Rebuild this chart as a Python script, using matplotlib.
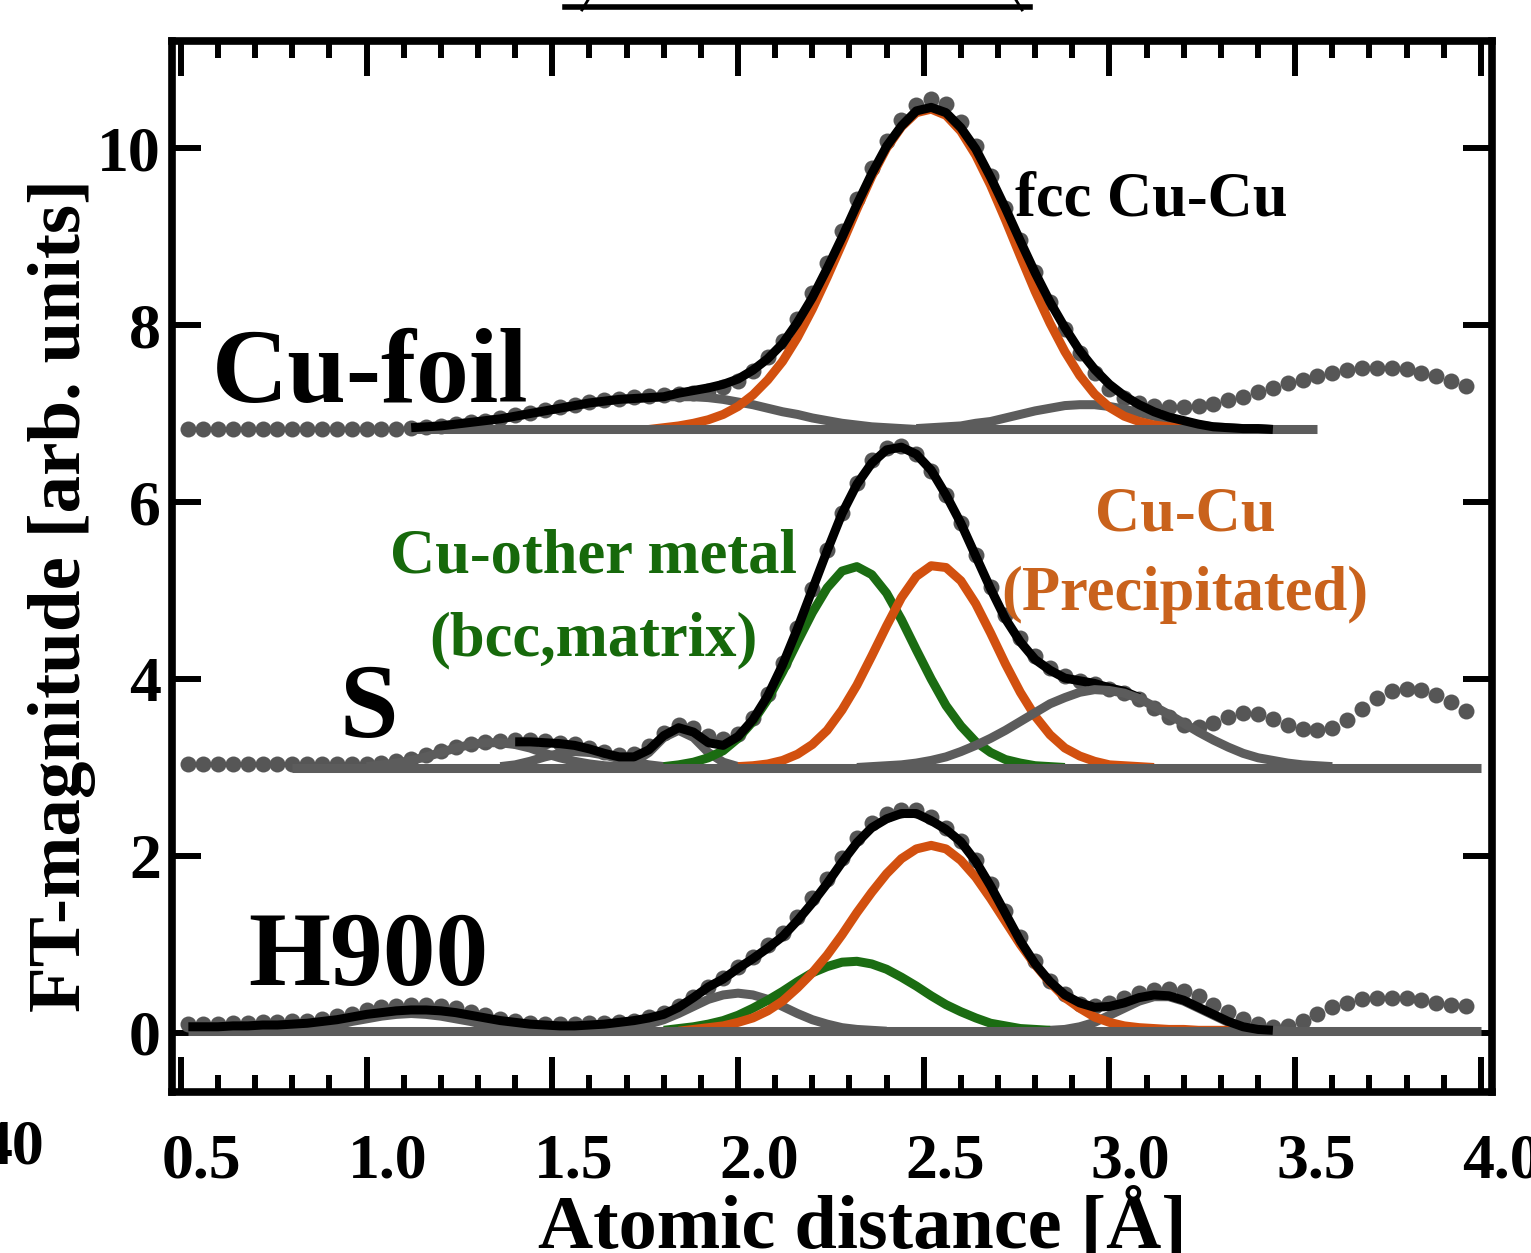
import numpy as np
import matplotlib.pyplot as plt
import matplotlib.transforms as mtransforms
from matplotlib.lines import Line2D
from matplotlib.ticker import MultipleLocator, NullLocator

plt.rcParams['font.family'] = ['Liberation Serif', 'DejaVu Serif']
plt.rcParams['font.weight'] = 'bold'

# measured FT points, R grid in Angstrom (step 0.04)
r = np.round(np.arange(0.52, 3.97, 0.04), 2)

samples = ['Cu-foil', 'S', 'H900']
offsets = [6.82, 3.00, 0.02]          # vertical shift of each sample
base_start = [1.12, 0.80, 0.52]       # fit window of each sample
base_end = [3.56, 4.00, 4.00]

# --- data (heights above each sample's baseline) ---
foil_data = [0.00, 0.00, 0.00, 0.00, 0.00, 0.00, 0.00, 0.00, 0.00, 0.00, 0.00, 0.00, 0.00, 0.01, 0.01,
             0.02, 0.03, 0.04, 0.06, 0.08, 0.10, 0.13, 0.16, 0.19, 0.22, 0.25, 0.28, 0.31, 0.33, 0.35,
             0.37, 0.38, 0.39, 0.40, 0.41, 0.43, 0.48,
             0.55, 0.66, 0.82, 1.00, 1.25, 1.54, 1.88, 2.24, 2.60, 2.95, 3.26, 3.50, 3.67, 3.74, 3.68,
             3.48, 3.20, 2.86, 2.50, 2.14, 1.78, 1.44, 1.14, 0.86, 0.64,
             0.46, 0.36, 0.30, 0.27, 0.25, 0.25, 0.26, 0.29, 0.33, 0.37, 0.42, 0.47, 0.52, 0.56, 0.60,
             0.64, 0.67, 0.69, 0.70, 0.70, 0.68, 0.64, 0.60, 0.55, 0.49]
s_data = [0.04, 0.04, 0.04, 0.04, 0.04, 0.04, 0.04, 0.04, 0.04, 0.04, 0.04, 0.04, 0.04,
          0.05, 0.07, 0.10, 0.14, 0.19, 0.23, 0.27, 0.29, 0.30, 0.31, 0.31, 0.30, 0.28, 0.26, 0.22,
          0.17, 0.14, 0.15, 0.24, 0.39, 0.48, 0.45, 0.36, 0.32,
          0.38, 0.56, 0.83, 1.18, 1.58, 2.02, 2.46, 2.88, 3.22, 3.47, 3.61, 3.63, 3.54, 3.35, 3.08,
          2.76, 2.40, 2.04, 1.72, 1.46, 1.26, 1.12, 1.03, 0.98, 0.94,
          0.89, 0.84, 0.77, 0.67, 0.57, 0.48, 0.46, 0.50, 0.57, 0.62, 0.61, 0.55, 0.48, 0.44, 0.42,
          0.45, 0.54, 0.66, 0.78, 0.86, 0.89, 0.88, 0.82, 0.74, 0.64]
h900_data = [0.08, 0.08, 0.08, 0.09, 0.09, 0.10, 0.10, 0.11, 0.12, 0.14, 0.17, 0.20, 0.24,
             0.27, 0.29, 0.30, 0.30, 0.29, 0.26, 0.22, 0.18, 0.14, 0.11, 0.09, 0.08, 0.08, 0.08, 0.09,
             0.09, 0.10, 0.12, 0.16, 0.21, 0.29, 0.39, 0.50, 0.60,
             0.72, 0.84, 0.97, 1.11, 1.29, 1.50, 1.72, 1.96, 2.18, 2.35, 2.45, 2.50, 2.50, 2.42, 2.30,
             2.15, 1.93, 1.66, 1.36, 1.06, 0.79, 0.57, 0.42, 0.31, 0.29,
             0.32, 0.38, 0.43, 0.47, 0.48, 0.46, 0.40, 0.30, 0.22, 0.14, 0.08, 0.05, 0.06, 0.12, 0.20,
             0.27, 0.32, 0.36, 0.38, 0.38, 0.37, 0.35, 0.32, 0.30, 0.28]

# --- fits (black) : start R, values ---
foil_fit_start = 1.12
foil_fit = [0.02, 0.03, 0.04, 0.06, 0.08, 0.10, 0.12, 0.15, 0.18, 0.21, 0.24, 0.27, 0.30, 0.32, 0.34,
            0.35, 0.36, 0.37,
            0.41, 0.44, 0.47, 0.51, 0.57, 0.67, 0.80, 0.97, 1.21, 1.49, 1.82, 2.17, 2.54, 2.89, 3.20,
            3.43, 3.60, 3.64,
            3.58, 3.41, 3.17, 2.85, 2.50, 2.13, 1.77, 1.44, 1.15, 0.89, 0.68, 0.51, 0.38, 0.28, 0.20,
            0.14, 0.10, 0.06, 0.03, 0.02, 0.01, 0.01, 0.00]
s_fit_start = 1.40
s_fit = [0.29, 0.29, 0.28, 0.27, 0.25, 0.21, 0.16, 0.12, 0.12, 0.20, 0.36, 0.45, 0.40, 0.28, 0.25,
         0.35, 0.54, 0.81, 1.16, 1.57, 2.01, 2.45, 2.87, 3.20, 3.44, 3.59, 3.62, 3.54, 3.36, 3.08,
         2.76, 2.39, 2.02, 1.68, 1.42, 1.22, 1.10, 1.01, 0.98, 0.95,
         0.90, 0.86, 0.79]
h900_fit_start = 0.52
h900_fit = [0.05, 0.05, 0.05, 0.06, 0.06, 0.07, 0.07, 0.08, 0.09, 0.11, 0.13, 0.16, 0.19,
            0.21, 0.23, 0.24, 0.24, 0.23, 0.21, 0.18, 0.15, 0.12, 0.10, 0.08, 0.07, 0.06, 0.06, 0.07,
            0.08, 0.10, 0.12, 0.15, 0.19, 0.27, 0.38, 0.50, 0.59,
            0.71, 0.82, 0.94, 1.07, 1.25, 1.45, 1.67, 1.91, 2.13, 2.30, 2.40, 2.46, 2.46, 2.38, 2.28,
            2.14, 1.92, 1.64, 1.33, 1.02, 0.76, 0.56, 0.41, 0.32, 0.27,
            0.28, 0.32, 0.38, 0.41, 0.40, 0.35, 0.27, 0.19, 0.11, 0.05, 0.02, 0.01]

# --- fitted shells ---
foil_gray1_start = 1.12
foil_gray1 = [0.02, 0.03, 0.04, 0.06, 0.08, 0.10, 0.12, 0.15, 0.18, 0.21, 0.24, 0.27, 0.30, 0.32,
              0.34, 0.35, 0.36, 0.37, 0.37, 0.37, 0.36, 0.34, 0.31, 0.28, 0.24, 0.20, 0.17, 0.13,
              0.10, 0.07, 0.05, 0.03, 0.02, 0.01, 0.00]
foil_cucu_start = 1.76
foil_cucu = [0.00, 0.02, 0.04, 0.07, 0.11, 0.17, 0.26, 0.39, 0.56, 0.77, 1.04, 1.36, 1.72, 2.10,
             2.49, 2.86, 3.18, 3.42, 3.58, 3.62,
             3.55, 3.37, 3.10, 2.76, 2.37, 1.96, 1.56, 1.20, 0.88, 0.61, 0.40, 0.25, 0.15, 0.09,
             0.05, 0.03, 0.02, 0.01, 0.00]
foil_gray2_start = 2.48
foil_gray2 = [0.01, 0.02, 0.03, 0.04, 0.07, 0.09, 0.13, 0.17, 0.21, 0.24, 0.27, 0.28, 0.28, 0.26,
              0.23, 0.19, 0.15, 0.11, 0.08, 0.05, 0.03, 0.02, 0.01, 0.01, 0.00]

s_grayA_start = 1.00
s_grayA = [0.01, 0.03, 0.05, 0.08, 0.12, 0.17, 0.22, 0.26, 0.28, 0.28, 0.26, 0.22, 0.16, 0.11,
           0.07, 0.04, 0.02, 0.01]
s_grayB_start = 1.36
s_grayB = [0.01, 0.03, 0.07, 0.12, 0.16, 0.18, 0.17, 0.14, 0.10, 0.06, 0.03, 0.01, 0.00]
s_grayC_start = 1.64
s_grayC = [0.00, 0.01, 0.06, 0.17, 0.34, 0.42, 0.34, 0.17, 0.06, 0.01, 0.00]
s_other_start = 1.80
s_other = [0.01, 0.03, 0.06, 0.11, 0.19, 0.33, 0.52, 0.77, 1.08, 1.42, 1.75, 2.03, 2.22, 2.27,
           2.18, 1.97, 1.67, 1.33, 1.00, 0.70, 0.47, 0.29, 0.17, 0.09, 0.05, 0.02, 0.01, 0.00]
s_cucu_start = 2.00
s_cucu = [0.01, 0.02, 0.04, 0.08, 0.15, 0.26, 0.42, 0.65, 0.93, 1.26, 1.60, 1.92, 2.16, 2.28,
          2.26, 2.11, 1.85, 1.52, 1.17, 0.85, 0.58, 0.37, 0.22, 0.13, 0.07, 0.03, 0.02, 0.01, 0.00]
s_grayD_start = 2.32
s_grayD = [0.00, 0.01, 0.02, 0.03, 0.05, 0.08, 0.12, 0.18, 0.25, 0.33, 0.42, 0.52, 0.62, 0.72,
           0.79, 0.85, 0.88, 0.87, 0.84, 0.78, 0.69, 0.60, 0.50, 0.40, 0.31, 0.23, 0.16, 0.11,
           0.08, 0.05, 0.03, 0.02, 0.01]

h900_grayG_start = 0.80
h900_grayG = [0.02, 0.03, 0.05, 0.07, 0.11, 0.14, 0.17, 0.19, 0.20, 0.19, 0.17, 0.14, 0.11, 0.07,
              0.05, 0.03, 0.01, 0.00]
h900_grayE_start = 1.60
h900_grayE = [0.00, 0.01, 0.02, 0.04, 0.08, 0.13, 0.20, 0.28, 0.36, 0.41, 0.43, 0.41, 0.36, 0.28,
              0.20, 0.13, 0.08, 0.04, 0.02, 0.01, 0.00]
h900_other_start = 1.80
h900_other = [0.01, 0.03, 0.05, 0.08, 0.12, 0.18, 0.26, 0.35, 0.45, 0.56, 0.66, 0.73, 0.78, 0.79,
              0.76, 0.70, 0.61, 0.51, 0.40, 0.30, 0.22, 0.15, 0.09, 0.06, 0.03, 0.02, 0.01]
h900_cucu_start = 1.84
h900_cucu = [0.00, 0.02, 0.04, 0.06, 0.10, 0.15, 0.23, 0.34, 0.49, 0.66, 0.86, 1.09, 1.34, 1.57,
             1.78, 1.95, 2.06, 2.10,
             2.06, 1.93, 1.74, 1.50, 1.24, 0.98, 0.75, 0.55, 0.38, 0.26, 0.16, 0.10, 0.06, 0.04,
             0.03, 0.02, 0.02, 0.01, 0.01, 0.01, 0.00]
h900_grayF_start = 2.80
h900_grayF = [0.00, 0.01, 0.02, 0.05, 0.10, 0.18, 0.26, 0.34, 0.39, 0.39, 0.34, 0.26, 0.18, 0.10,
              0.05, 0.02, 0.01, 0.00]

ORANGE = '#d2500f'
GREEN = '#1b6c12'
GRAY = '#5c5c5c'
DOT = '#565656'
LW = 6.5


def seg(start, vals):
    return np.round(start + 0.04 * np.arange(len(vals)), 2), np.array(vals)


data_all = [foil_data, s_data, h900_data]
fits = [(foil_fit_start, foil_fit), (s_fit_start, s_fit), (h900_fit_start, h900_fit)]
# (start, values, colour, drawn above the fit?)
shells = [
    [(foil_gray1_start, foil_gray1, GRAY, False), (foil_gray2_start, foil_gray2, GRAY, False),
     (foil_cucu_start, foil_cucu, ORANGE, False)],
    [(s_grayA_start, s_grayA, GRAY, False), (s_grayB_start, s_grayB, GRAY, False),
     (s_grayC_start, s_grayC, GRAY, False), (s_grayD_start, s_grayD, GRAY, True),
     (s_other_start, s_other, GREEN, False), (s_cucu_start, s_cucu, ORANGE, False)],
    [(h900_grayG_start, h900_grayG, GRAY, False), (h900_grayE_start, h900_grayE, GRAY, False),
     (h900_grayF_start, h900_grayF, GRAY, False), (h900_other_start, h900_other, GREEN, False),
     (h900_cucu_start, h900_cucu, ORANGE, False)],
]

fig = plt.figure(figsize=(15.31, 12.53), dpi=100)
ax = fig.add_axes([172 / 1531, 1 - 1092 / 1253, 1320 / 1531, 1051 / 1253])

for k in range(3):
    off = offsets[k]
    ax.plot(r, off + np.array(data_all[k]), 'o', color=DOT, ms=11.5, mew=0, zorder=2)
    for start, vals, col, above in shells[k]:
        x, y = seg(start, vals)
        ax.plot(x, off + y, color=col, lw=LW, zorder=5 if above else 3,
                solid_capstyle='butt', solid_joinstyle='round')
    x, y = seg(*fits[k])
    ax.plot(x, off + y, color='black', lw=LW, zorder=4,
            solid_capstyle='butt', solid_joinstyle='round')

ax.hlines(offsets, base_start, base_end, color=GRAY, lw=LW, zorder=3)

ax.set_xlim(0.476, 4.03)
ax.set_ylim(-0.667, 11.21)

ax.set_xticks(np.arange(0.5, 4.01, 0.5))
ax.set_xticklabels(['%.1f' % v for v in np.arange(0.5, 4.01, 0.5)])
ax.xaxis.set_minor_locator(MultipleLocator(0.1))
ax.set_yticks([0, 2, 4, 6, 8, 10])
ax.yaxis.set_minor_locator(NullLocator())

ax.tick_params(axis='x', which='major', direction='in', top=True, bottom=True,
               length=25, width=4.3, labelsize=46, pad=30)
ax.tick_params(axis='x', which='minor', direction='in', top=True, bottom=True,
               length=12, width=4.3)
ax.tick_params(axis='y', direction='in', left=True, right=True,
               length=21, width=4.3, labelsize=46, pad=8)
for sp in ax.spines.values():
    sp.set_linewidth(5.5)

# tick labels sit a little to the right of their ticks
shift = mtransforms.ScaledTranslation(0.21, 0, fig.dpi_scale_trans)
for t in ax.xaxis.get_major_ticks():
    t.label1.set_transform(t.label1.get_transform() + shift)

fig.text(0.0405, 0.525, 'FT-magnitude [arb. units]', rotation=90,
         ha='center', va='center', fontsize=54)
fig.text(0.563, 0.004, 'Atomic distance [Å]', ha='center', va='baseline', fontsize=55)

# sample names and shell labels
ax.text(0.583, 7.13, 'Cu-foil', fontsize=76, ha='left', va='baseline')
ax.text(0.928, 3.34, 'S', fontsize=76, ha='left', va='baseline')
ax.text(0.68, 0.54, 'H900', fontsize=76, ha='left', va='baseline')
ax.text(2.746, 9.24, 'fcc Cu-Cu', fontsize=45, ha='left', va='baseline')
ax.text(1.612, 5.20, 'Cu-other metal', fontsize=45, ha='center', va='baseline', color='#16690b')
ax.text(1.612, 4.27, '(bcc,matrix)', fontsize=45, ha='center', va='baseline', color='#16690b')
ax.text(3.203, 5.68, 'Cu-Cu', fontsize=45, ha='center', va='baseline', color='#c9621c')
ax.text(3.203, 4.78, '(Precipitated)', fontsize=45, ha='center', va='baseline', color='#c9621c')

# pieces of the neighbouring panels cut by the crop
fig.text(44 / 1531, 1 - 1148 / 1253, '40', fontsize=46, ha='right', va='center')
fig.add_artist(Line2D([565 / 1531, 1030 / 1531], [1 - 7 / 1253] * 2,
                      transform=fig.transFigure, color='black', lw=4))
fig.add_artist(Line2D([582 / 1531, 588 / 1531], [1 - 10 / 1253, 1.0],
                      transform=fig.transFigure, color='black', lw=2))
fig.add_artist(Line2D([1022 / 1531, 1016 / 1531], [1 - 10 / 1253, 1.0],
                      transform=fig.transFigure, color='black', lw=2))

fig.savefig('out.png', dpi=100)
